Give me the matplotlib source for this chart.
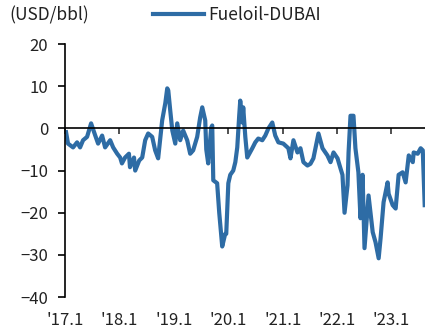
import pandas as pd
import matplotlib
matplotlib.use('Agg')
import matplotlib.pyplot as plt

plt.rcParams['font.family'] = ['Noto Sans CJK KR', 'DejaVu Sans']

# Fuel oil minus Dubai crude spread, USD/bbl
dates = [
    '2017-01-08', '2017-01-21', '2017-02-24', '2017-03-23', '2017-04-12', '2017-05-02',
    '2017-05-29', '2017-06-25', '2017-07-22', '2017-08-11', '2017-09-07', '2017-09-27',
    '2017-10-31', '2017-11-20', '2017-12-17', '2018-01-06', '2018-01-18', '2018-02-08',
    '2018-03-06', '2018-03-13', '2018-04-09', '2018-04-17', '2018-05-14', '2018-06-03',
    '2018-06-23', '2018-07-13', '2018-08-09', '2018-08-29', '2018-09-18', '2018-10-15',
    '2018-11-05', '2018-11-18', '2018-11-25', '2018-12-08', '2018-12-22', '2019-01-11',
    '2019-01-24', '2019-02-13', '2019-03-05', '2019-04-01', '2019-04-21', '2019-05-11',
    '2019-06-07', '2019-06-27', '2019-07-11', '2019-07-31', '2019-08-07', '2019-08-20',
    '2019-09-09', '2019-09-16', '2019-09-23', '2019-10-19', '2019-11-02', '2019-11-22',
    '2019-12-12', '2019-12-19', '2020-01-02', '2020-01-15', '2020-02-04', '2020-02-18',
    '2020-03-02', '2020-03-15', '2020-03-22', '2020-04-05', '2020-04-11', '2020-04-25',
    '2020-05-08', '2020-06-11', '2020-07-01', '2020-07-21', '2020-08-17', '2020-09-06',
    '2020-09-27', '2020-10-23', '2020-11-12', '2020-12-03', '2021-01-05', '2021-02-08',
    '2021-02-22', '2021-03-14', '2021-04-10', '2021-04-30', '2021-05-20', '2021-06-16',
    '2021-07-06', '2021-07-26', '2021-08-29', '2021-09-25', '2021-10-28', '2021-11-18',
    '2021-12-08', '2022-01-04', '2022-01-24', '2022-02-06', '2022-02-20', '2022-03-12',
    '2022-03-19', '2022-04-01', '2022-04-21', '2022-05-04', '2022-05-24', '2022-06-07',
    '2022-06-21', '2022-07-04', '2022-07-31', '2022-08-28', '2022-09-16', '2022-10-07',
    '2022-10-20', '2022-11-09', '2022-12-06', '2022-12-13', '2023-01-09', '2023-01-29',
    '2023-02-18', '2023-03-17', '2023-04-06', '2023-04-27', '2023-05-24', '2023-05-30',
    '2023-06-26', '2023-07-16', '2023-07-30', '2023-08-12',
]
spread = [
    -0.9, -3.6, -4.5, -3.3, -4.5, -2.8,
    -2.0, 1.2, -1.6, -3.6, -1.7, -4.5,
    -2.8, -4.5, -6.0, -6.9, -8.3, -6.9,
    -6.0, -9.2, -6.9, -10.0, -7.6, -6.9,
    -2.8, -1.2, -2.0, -5.2, -7.1, 1.9,
    6.0, 9.5, 9.0, 4.3, -0.5, -3.6,
    1.2, -2.8, -0.5, -2.8, -6.0, -5.2,
    -2.0, 2.6, 5.0, 1.9, -5.0, -8.3,
    0.2, 0.7, -12.3, -13.0, -20.0, -28.0,
    -25.0, -25.0, -13.0, -11.0, -10.0, -8.0,
    -4.5, 3.0, 6.6, 1.4, 5.0, -2.0,
    -6.9, -4.7, -3.3, -2.4, -2.8, -1.7,
    0.0, 1.4, -1.7, -3.3, -3.6, -4.7,
    -7.1, -2.8, -5.7, -4.7, -8.0, -8.8,
    -8.4, -7.1, -1.2, -4.7, -6.4, -8.0,
    -5.7, -7.1, -9.5, -11.0, -20.0, -13.5,
    -5.7, 3.0, 3.0, -4.7, -10.4, -21.3,
    -11.0, -28.4, -15.9, -24.6, -27.0, -30.8,
    -26.0, -17.5, -12.8, -15.5, -18.2, -19.0,
    -11.0, -10.4, -12.8, -6.4, -8.0, -5.7,
    -6.0, -4.7, -5.2, -18.2,
]
year_ticks = ['2017-01-01', '2018-01-01', '2019-01-01', '2020-01-01',
              '2021-01-01', '2022-01-01', '2023-01-01']
year_labels = ["'17.1", "'18.1", "'19.1", "'20.1", "'21.1", "'22.1", "'23.1"]

x = pd.to_datetime(dates)
ticks = pd.to_datetime(year_ticks)

fig = plt.figure(figsize=(4.25, 3.29), dpi=100)
ax = fig.add_axes([0.153, 0.097, 0.847, 0.769])

ax.plot(x, spread, color='#2e6ca5', linewidth=3.0, label='Fueloil-DUBAI',
        solid_joinstyle='round')

ax.set_ylim(-40, 20)
ax.set_yticks(range(-40, 21, 10))
ax.set_xlim(pd.Timestamp('2017-01-01'), pd.Timestamp('2023-08-14'))

# zero line acts as the x axis, labels sit under the plot
ax.spines['bottom'].set_position(('data', 0))
ax.spines['top'].set_visible(False)
ax.spines['right'].set_visible(False)
ax.spines['left'].set_linewidth(1.2)
ax.spines['bottom'].set_linewidth(1.2)
ax.set_xticks(ticks)
ax.tick_params(axis='x', direction='out', length=4, width=1.2, labelbottom=False, color='#333333')
ax.tick_params(axis='y', direction='out', length=5, width=1.2, pad=7, labelsize=12,
               labelcolor='#222222')

sec = ax.secondary_xaxis('bottom')
sec.set_xticks(ticks)
sec.set_xticklabels(year_labels)
sec.spines['bottom'].set_visible(False)
sec.tick_params(length=0, pad=11, labelsize=12, labelcolor='#222222')

fig.text(0.022, 0.952, '(USD/bbl)', fontsize=12.5, va='center', color='#222222')
leg = ax.legend(loc='center', bbox_to_anchor=(0.478, 1.115), frameon=False, fontsize=12.5,
                handlelength=2.9, handletextpad=0.25, borderaxespad=0, borderpad=0)
for t in leg.get_texts():
    t.set_color('#222222')

fig.savefig('out.png', dpi=100)
